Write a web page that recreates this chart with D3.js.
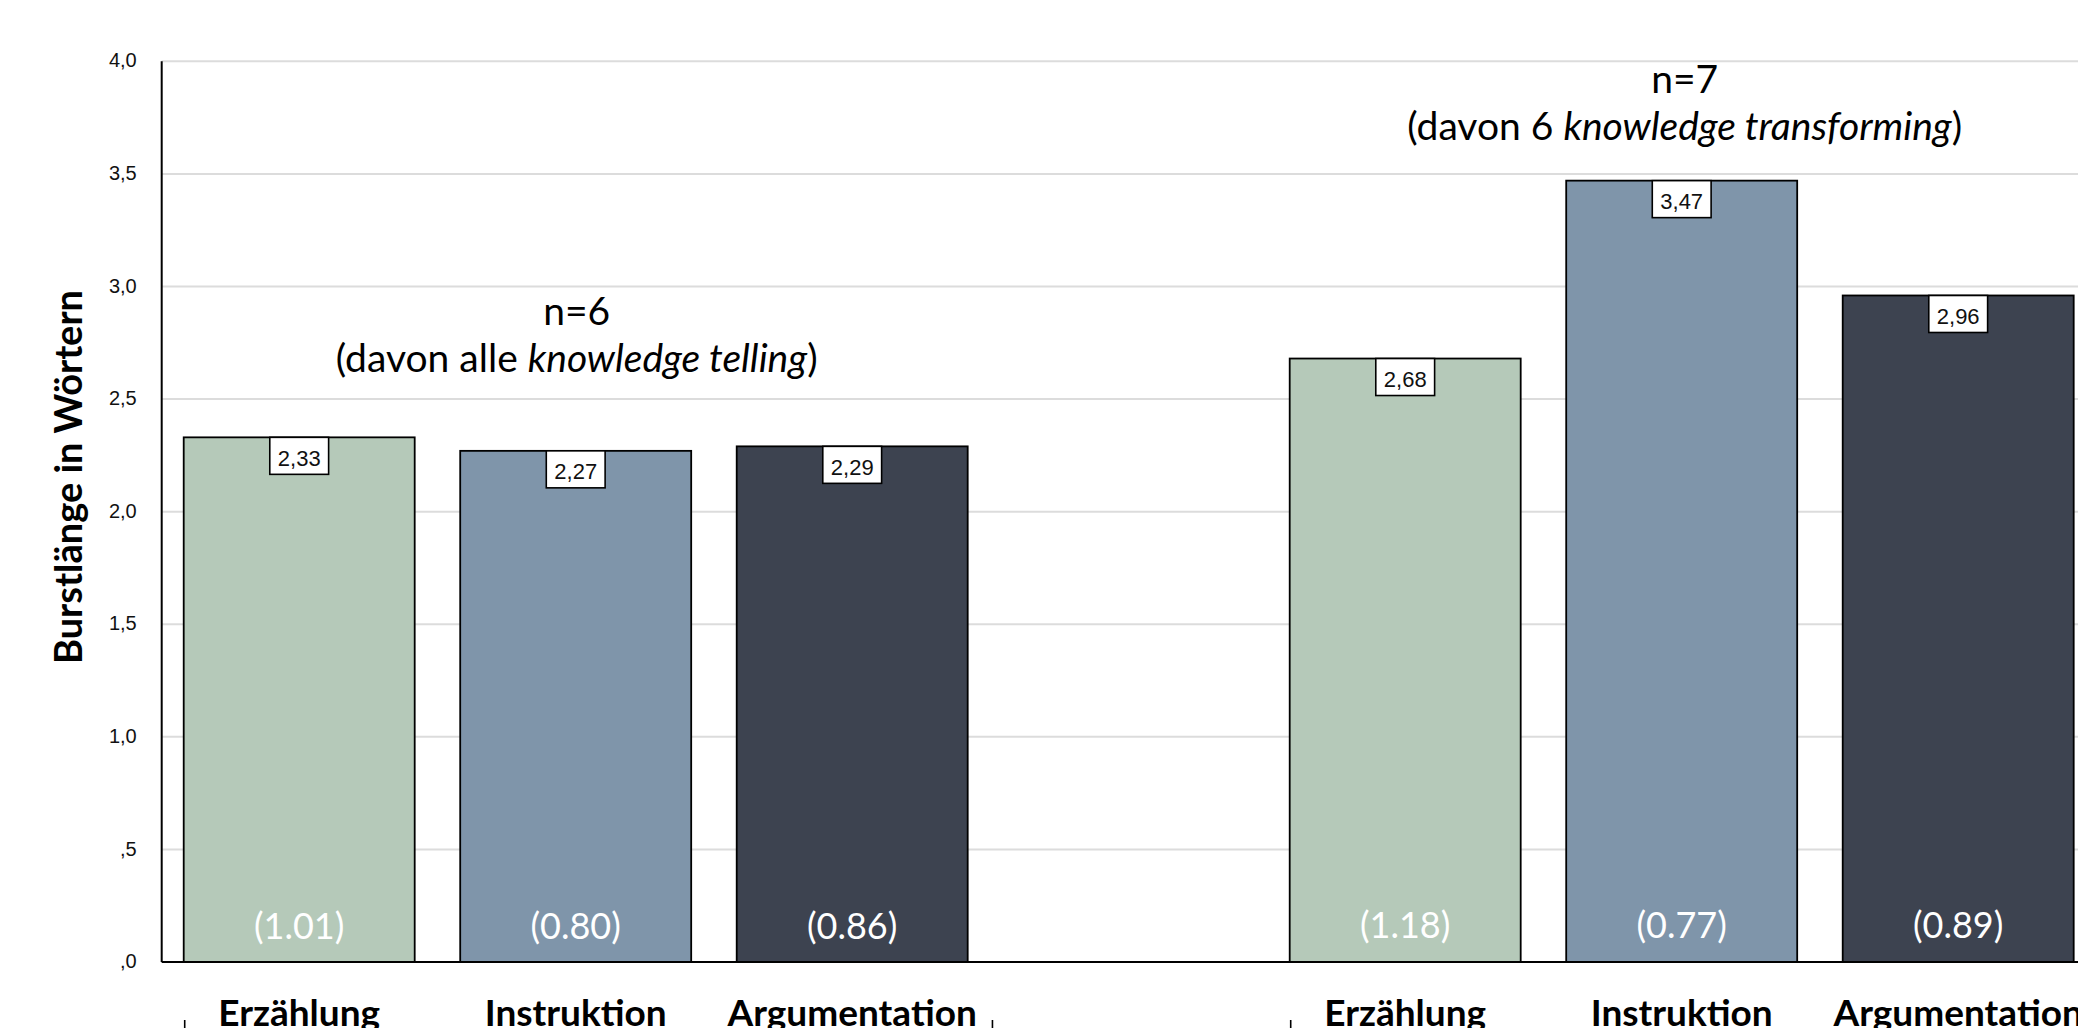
<!DOCTYPE html>
<html>
<head>
<meta charset="utf-8">
<script src="https://cdn.jsdelivr.net/npm/d3@7/dist/d3.min.js"></script>
<style>
  html, body { margin: 0; padding: 0; background: #fff; overflow: hidden; }
  svg { display: block; }
</style>
</head>
<body>
<svg id="chart" width="2078" height="1028"></svg>
<script>
// ---------- data ----------
const categories = ["Erzählung", "Instruktion", "Argumentation"];
const groupKeys = ["telling", "transforming"];
const meansTelling = [2.33, 2.27, 2.29];
const meansTransforming = [2.68, 3.47, 2.96];
const sdTelling = [1.01, 0.80, 0.86];
const sdTransforming = [1.18, 0.77, 0.89];
const groupN = ["n=6", "n=7"];
const groupNotePlain = ["(davon alle ", "(davon 6 "];
const groupNoteItalic = ["knowledge telling", "knowledge transforming"];
const yTicks = [0, 0.5, 1, 1.5, 2, 2.5, 3, 3.5, 4];
const yTickLabels = [",0", ",5", "1,0", "1,5", "2,0", "2,5", "3,0", "3,5", "4,0"];
const yTitle = "Burstlänge in Wörtern";
const barColors = ["#b5c9b9", "#7f95aa", "#3d4350"];

(function draw() {
  const svg = d3.select("#chart");
  const mLeft = 161.7, mBottom = 962, mTop = 61.3;
  const calibriLike = "Lato, Carlito, Calibri, 'Open Sans', sans-serif";
  const arialLike = "'Liberation Sans', Arial, Helvetica, sans-serif";

  const slots = ["telling|0", "telling|1", "telling|2", "gap", "transforming|0", "transforming|1", "transforming|2"];
  const x = d3.scaleBand()
    .domain(slots)
    .range([mLeft, 2095.7])
    .paddingInner(0.1646)
    .paddingOuter(0.0796);
  const y = d3.scaleLinear().domain([0, 4]).range([mBottom, mTop]);

  const bars = [];
  groupKeys.forEach((g, gi) => {
    const means = gi === 0 ? meansTelling : meansTransforming;
    const sds = gi === 0 ? sdTelling : sdTransforming;
    categories.forEach((c, ci) => {
      bars.push({ group: g, gi, cat: c, ci, slot: g + "|" + ci, mean: means[ci], sd: sds[ci] });
    });
  });

  // gridlines
  svg.append("g").selectAll("line").data(yTicks).join("line")
    .attr("x1", mLeft).attr("x2", x.range()[1])
    .attr("y1", d => y(d)).attr("y2", d => y(d))
    .attr("stroke", "#dcdcdc").attr("stroke-width", 2);

  // bars
  svg.append("g").selectAll("rect").data(bars).join("rect")
    .attr("x", d => x(d.slot))
    .attr("y", d => y(d.mean))
    .attr("width", x.bandwidth())
    .attr("height", d => y(0) - y(d.mean))
    .attr("fill", d => barColors[d.ci])
    .attr("stroke", "#000").attr("stroke-width", 1.8);

  // y axis
  const yAxis = d3.axisLeft(y).tickValues(yTicks)
    .tickFormat((d, i) => yTickLabels[i]).tickSize(0).tickPadding(25);
  const ya = svg.append("g").attr("transform", `translate(${mLeft},0)`).call(yAxis);
  ya.select(".domain").remove();
  ya.selectAll("text").attr("font-family", arialLike).attr("font-size", 20)
    .attr("fill", "#111").attr("dy", "0.28em");
  svg.append("line").attr("x1", mLeft).attr("x2", mLeft).attr("y1", mTop).attr("y2", mBottom)
    .attr("stroke", "#000").attr("stroke-width", 2);
  svg.append("line").attr("x1", mLeft).attr("x2", x.range()[1]).attr("y1", mBottom).attr("y2", mBottom)
    .attr("stroke", "#000").attr("stroke-width", 2.2);

  // y title
  svg.append("text")
    .attr("transform", `translate(82,477) rotate(-90)`)
    .attr("text-anchor", "middle")
    .attr("font-family", calibriLike).attr("font-weight", 700).attr("font-size", 38)
    .attr("fill", "#000").text(yTitle);

  // value labels (boxes)
  const lab = svg.append("g").selectAll("g").data(bars).join("g")
    .attr("transform", d => `translate(${x(d.slot) + x.bandwidth() / 2},${y(d.mean)})`);
  lab.append("text")
    .attr("text-anchor", "middle").attr("y", 28.5)
    .attr("font-family", arialLike).attr("font-size", 22).attr("fill", "#111")
    .text(d => d3.format(".2f")(d.mean).replace(".", ","));
  lab.each(function () {
    const g = d3.select(this);
    const w = g.select("text").node().getComputedTextLength() + 16;
    g.insert("rect", "text").attr("x", -w / 2).attr("y", 0).attr("width", w).attr("height", 37)
      .attr("fill", "#fff").attr("stroke", "#000").attr("stroke-width", 1.6);
  });

  // SD labels inside bars
  svg.append("g").selectAll("text").data(bars).join("text")
    .attr("x", d => x(d.slot) + x.bandwidth() / 2)
    .attr("y", d => d.gi === 0 ? 939 : 937.5)
    .attr("text-anchor", "middle")
    .attr("font-family", calibriLike).attr("font-size", 36).attr("fill", "#fff")
    .text(d => "(" + d3.format(".2f")(d.sd) + ")");

  // category labels
  svg.append("g").selectAll("text").data(bars).join("text")
    .attr("x", d => x(d.slot) + x.bandwidth() / 2)
    .attr("y", 1026)
    .attr("text-anchor", "middle")
    .attr("font-family", calibriLike).attr("font-weight", 700).attr("font-size", 37).attr("fill", "#000")
    .text(d => d.cat);

  // group bracket ticks
  const gap = x.step() - x.bandwidth();
  groupKeys.forEach(g => {
    const x0 = x(g + "|0") + 1;
    const x1 = x(g + "|2") + x.bandwidth() + gap / 2 + 2;
    [x0, x1].forEach(xx => {
      svg.append("line").attr("x1", xx).attr("x2", xx).attr("y1", 1020).attr("y2", 1040)
        .attr("stroke", "#000").attr("stroke-width", 1.6);
    });
  });

  // group annotations
  const noteBase = [372, 140];
  groupKeys.forEach((g, gi) => {
    const cx = x(g + "|1") + x.bandwidth() / 2 + (gi === 0 ? 1 : 3);
    svg.append("text").attr("x", cx).attr("y", noteBase[gi] - 47)
      .attr("text-anchor", "middle").attr("font-family", calibriLike).attr("font-size", 39)
      .attr("fill", "#000").text(groupN[gi]);
    const t = svg.append("text").attr("x", cx).attr("y", noteBase[gi])
      .attr("text-anchor", "middle").attr("font-family", calibriLike).attr("font-size", 39)
      .attr("fill", "#000");
    t.append("tspan").text(groupNotePlain[gi]);
    t.append("tspan").attr("font-style", "italic").text(groupNoteItalic[gi]);
    t.append("tspan").text(")");
  });
})();
</script>
</body>
</html>
